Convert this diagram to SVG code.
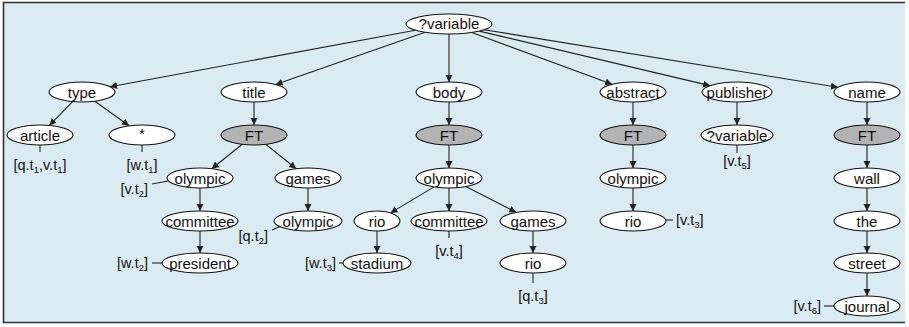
<svg xmlns="http://www.w3.org/2000/svg" width="909" height="327" viewBox="0 0 909 327">
<defs>
<style>
.n ellipse{fill:#fff;stroke:#111;stroke-width:1.1}
.n.ft ellipse{fill:#b3b3b3}
text{font-family:"Liberation Sans",Arial,sans-serif;font-size:15px;fill:#111}
.n text{text-anchor:middle;dominant-baseline:central}
.lbl{font-size:14.5px}
.sub{font-size:9.5px}
.e line{stroke:#222;stroke-width:1.1;marker-end:url(#ah)}
.t line{stroke:#222;stroke-width:1.1}
</style>
<marker id="ah" markerUnits="userSpaceOnUse" markerWidth="8" markerHeight="8" refX="7" refY="3.5" orient="auto">
<path d="M0,0 L7,3.5 L0,7 Z" fill="#222"/>
</marker>
</defs>
<rect x="3" y="2" width="902" height="321" fill="#dbebf2"/>
<path d="M905,2.5 H3.5 V322.5 H905" fill="none" stroke="#333" stroke-width="1.6"/>

<g id="connectors">
<g class="e">
<line x1="415.4" y1="30.2" x2="110.1" y2="86.8"/>
<line x1="425.1" y1="32.3" x2="275.6" y2="84.5"/>
<line x1="449" y1="34" x2="449" y2="82"/>
<line x1="471.9" y1="32.5" x2="612.1" y2="84.3"/>
<line x1="479.2" y1="31.1" x2="710" y2="85.6"/>
<line x1="484.2" y1="29.7" x2="837.9" y2="87.3"/>
<line x1="72.6" y1="101.6" x2="49.4" y2="125.4"/>
<line x1="94.9" y1="101.2" x2="129.1" y2="125.8"/>
<line x1="254" y1="102" x2="254" y2="125"/>
<line x1="242.3" y1="144.3" x2="211.7" y2="168.7"/>
<line x1="265.7" y1="144.3" x2="296.3" y2="168.7"/>
<line x1="200" y1="188" x2="200" y2="211"/>
<line x1="200" y1="231" x2="200" y2="253"/>
<line x1="308" y1="188" x2="308" y2="211"/>
<line x1="449" y1="102" x2="449" y2="125"/>
<line x1="449" y1="145" x2="449" y2="168"/>
<line x1="434.1" y1="186.9" x2="390.5" y2="212.9"/>
<line x1="449" y1="188" x2="449" y2="211"/>
<line x1="465.8" y1="186.6" x2="516.2" y2="212.4"/>
<line x1="377" y1="231" x2="377" y2="253"/>
<line x1="533" y1="231" x2="533" y2="253"/>
<line x1="633" y1="102" x2="633" y2="125"/>
<line x1="633" y1="145" x2="633" y2="168"/>
<line x1="633" y1="188" x2="633" y2="211"/>
<line x1="737" y1="102" x2="737" y2="125"/>
<line x1="867" y1="102" x2="867" y2="125"/>
<line x1="867" y1="145" x2="867" y2="168"/>
<line x1="867" y1="188" x2="867" y2="211"/>
<line x1="867" y1="231" x2="867" y2="253"/>
<line x1="867" y1="273" x2="867" y2="296"/>
</g>
<g class="t">
<line x1="40" y1="145" x2="40" y2="152"/>
<line x1="142" y1="145" x2="142" y2="152"/>
<line x1="152" y1="184" x2="168" y2="181"/>
<line x1="272" y1="230" x2="280" y2="226.5"/>
<line x1="152" y1="263" x2="162" y2="263"/>
<line x1="339" y1="263" x2="343" y2="263"/>
<line x1="449" y1="231" x2="449" y2="238"/>
<line x1="533" y1="273" x2="533" y2="283"/>
<line x1="666" y1="220" x2="673" y2="220"/>
<line x1="737" y1="145" x2="737" y2="153"/>
<line x1="824" y1="306" x2="834" y2="306"/>
</g>
</g>

<g id="root" class="n"><ellipse cx="449" cy="24" rx="43" ry="10"/><text x="449" y="23.5">?variable</text></g>
<g id="type" class="n"><ellipse cx="82" cy="92" rx="33" ry="10"/><text x="82" y="92">type</text></g>
<g id="title" class="n"><ellipse cx="254" cy="92" rx="33" ry="10"/><text x="254" y="92">title</text></g>
<g id="body" class="n"><ellipse cx="449" cy="92" rx="33" ry="10"/><text x="449" y="92">body</text></g>
<g id="abstract" class="n"><ellipse cx="633" cy="92" rx="33" ry="10"/><text x="633" y="92">abstract</text></g>
<g id="publisher" class="n"><ellipse cx="737" cy="92" rx="35" ry="10"/><text x="737" y="92">publisher</text></g>
<g id="name" class="n"><ellipse cx="867" cy="92" rx="33" ry="10"/><text x="867" y="92">name</text></g>

<g id="article" class="n"><ellipse cx="40" cy="135" rx="33" ry="10"/><text x="40" y="135">article</text></g>
<g id="star" class="n"><ellipse cx="142" cy="135" rx="33" ry="10"/><text x="142" y="133">*</text></g>
<g id="ft-title" class="n ft"><ellipse cx="254" cy="135" rx="33" ry="10"/><text x="254" y="135">FT</text></g>
<g id="ft-body" class="n ft"><ellipse cx="449" cy="135" rx="33" ry="10"/><text x="449" y="135">FT</text></g>
<g id="ft-abstract" class="n ft"><ellipse cx="633" cy="135" rx="33" ry="10"/><text x="633" y="135">FT</text></g>
<g id="var-publisher" class="n"><ellipse cx="737" cy="135" rx="36" ry="10"/><text x="737" y="135">?variable</text></g>
<g id="ft-name" class="n ft"><ellipse cx="867" cy="135" rx="33" ry="10"/><text x="867" y="135">FT</text></g>

<g id="olympic-title" class="n"><ellipse cx="200" cy="178" rx="33" ry="10"/><text x="200" y="178">olympic</text></g>
<g id="games-title" class="n"><ellipse cx="308" cy="178" rx="33" ry="10"/><text x="308" y="178">games</text></g>
<g id="olympic-body" class="n"><ellipse cx="449" cy="178" rx="33" ry="10"/><text x="449" y="178">olympic</text></g>
<g id="olympic-abstract" class="n"><ellipse cx="633" cy="178" rx="33" ry="10"/><text x="633" y="178">olympic</text></g>
<g id="wall" class="n"><ellipse cx="867" cy="178" rx="33" ry="10"/><text x="867" y="178">wall</text></g>

<g id="committee-title" class="n"><ellipse cx="200" cy="221" rx="38" ry="10"/><text x="200" y="221">committee</text></g>
<g id="olympic-games" class="n"><ellipse cx="308" cy="221" rx="34" ry="10"/><text x="308" y="221">olympic</text></g>
<g id="rio-body" class="n"><ellipse cx="377" cy="221" rx="23" ry="10"/><text x="377" y="221">rio</text></g>
<g id="committee-body" class="n"><ellipse cx="449" cy="221" rx="38" ry="10"/><text x="449" y="221">committee</text></g>
<g id="games-body" class="n"><ellipse cx="533" cy="221" rx="33" ry="10"/><text x="533" y="221">games</text></g>
<g id="rio-abstract" class="n"><ellipse cx="633" cy="221" rx="33" ry="10"/><text x="633" y="221">rio</text></g>
<g id="the" class="n"><ellipse cx="867" cy="221" rx="33" ry="10"/><text x="867" y="221">the</text></g>

<g id="president" class="n"><ellipse cx="200" cy="263" rx="38" ry="10"/><text x="200" y="263">president</text></g>
<g id="stadium" class="n"><ellipse cx="377" cy="263" rx="34" ry="10"/><text x="377" y="263">stadium</text></g>
<g id="rio-games" class="n"><ellipse cx="533" cy="263" rx="33" ry="10"/><text x="533" y="263">rio</text></g>
<g id="street" class="n"><ellipse cx="867" cy="263" rx="33" ry="10"/><text x="867" y="263">street</text></g>
<g id="journal" class="n"><ellipse cx="867" cy="306" rx="33" ry="10"/><text x="867" y="306">journal</text></g>

<g id="labels">
<text class="lbl" x="40" y="170" text-anchor="middle">[q.t<tspan class="sub" dy="3">1</tspan><tspan dy="-3">,v.t</tspan><tspan class="sub" dy="3">1</tspan><tspan dy="-3">]</tspan></text>
<text class="lbl" x="142" y="170" text-anchor="middle">[w.t<tspan class="sub" dy="3">1</tspan><tspan dy="-3">]</tspan></text>
<text class="lbl" x="148" y="194" text-anchor="end">[v.t<tspan class="sub" dy="3">2</tspan><tspan dy="-3">]</tspan></text>
<text class="lbl" x="268" y="241" text-anchor="end">[q.t<tspan class="sub" dy="3">2</tspan><tspan dy="-3">]</tspan></text>
<text class="lbl" x="148" y="268" text-anchor="end">[w.t<tspan class="sub" dy="3">2</tspan><tspan dy="-3">]</tspan></text>
<text class="lbl" x="336" y="268" text-anchor="end">[w.t<tspan class="sub" dy="3">3</tspan><tspan dy="-3">]</tspan></text>
<text class="lbl" x="449" y="256" text-anchor="middle">[v.t<tspan class="sub" dy="3">4</tspan><tspan dy="-3">]</tspan></text>
<text class="lbl" x="533" y="301" text-anchor="middle">[q.t<tspan class="sub" dy="3">3</tspan><tspan dy="-3">]</tspan></text>
<text class="lbl" x="676" y="225">[v.t<tspan class="sub" dy="3">3</tspan><tspan dy="-3">]</tspan></text>
<text class="lbl" x="737" y="166" text-anchor="middle">[v.t<tspan class="sub" dy="3">5</tspan><tspan dy="-3">]</tspan></text>
<text class="lbl" x="821" y="311" text-anchor="end">[v.t<tspan class="sub" dy="3">6</tspan><tspan dy="-3">]</tspan></text>
</g>
</svg>
